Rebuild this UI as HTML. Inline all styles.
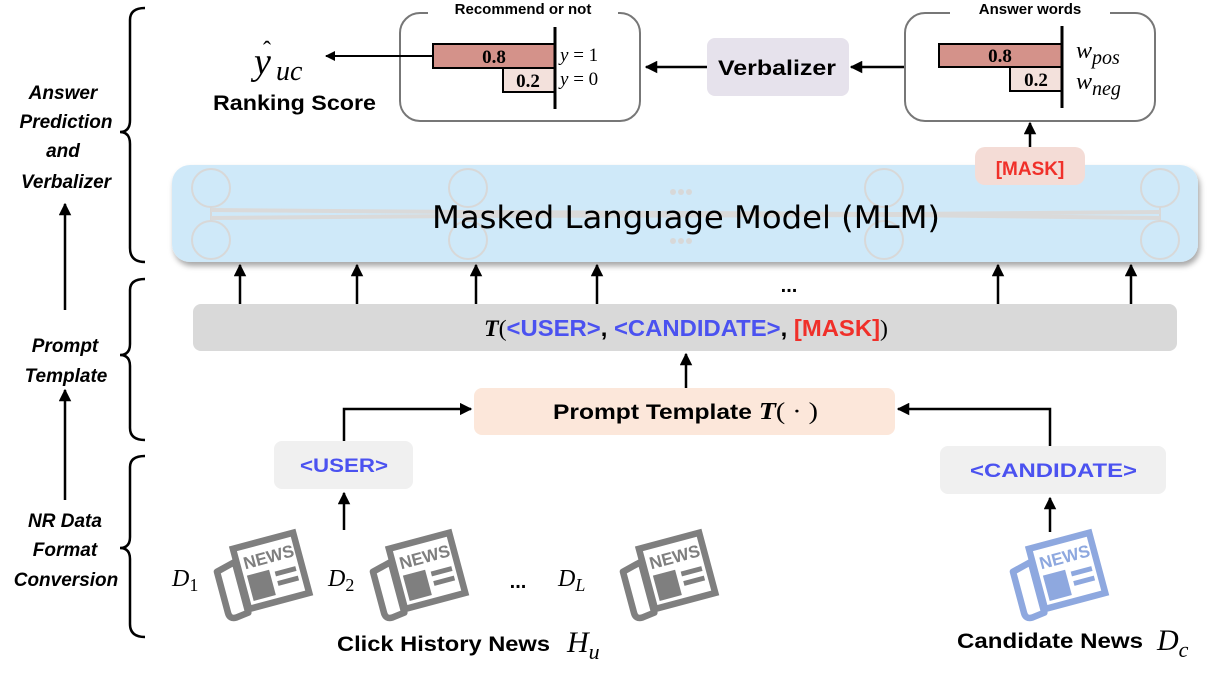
<!DOCTYPE html>
<html><head><meta charset="utf-8"><style>
body{margin:0;background:#fff;}
svg{display:block;}
.b{font-family:"Liberation Sans",sans-serif;font-weight:bold;}
.s{font-family:"Liberation Serif",serif;}
</style></head><body>
<svg width="1219" height="675" viewBox="0 0 1219 675" xmlns="http://www.w3.org/2000/svg">
<defs>
<marker id="ah" viewBox="0 0 10 10" refX="9" refY="5" markerWidth="5" markerHeight="5" orient="auto"><path d="M0,0 L10,5 L0,10 z" fill="#000"/></marker>
<filter id="sh" x="-5%" y="-20%" width="110%" height="140%"><feDropShadow dx="2" dy="4" stdDeviation="3" flood-color="#000" flood-opacity="0.35"/></filter>
<g id="news">
 <path d="M-52,-18 L-28,-24 L-28,40 L-44,42 Q-52,42 -52,34 z" fill="none" stroke="currentColor" stroke-width="8" stroke-linejoin="round"/>
 <rect x="-26" y="-40" width="76" height="76" fill="#fff" stroke="currentColor" stroke-width="8"/>
 <text x="-18" y="-12" font-family="Liberation Sans,sans-serif" font-weight="bold" font-size="21" fill="currentColor">NEWS</text>
 <rect x="-18" y="-4" width="28" height="32" fill="currentColor"/>
 <rect x="16" y="0" width="26" height="6" fill="currentColor"/>
 <rect x="16" y="12" width="26" height="6" fill="currentColor"/>
</g>
</defs>

<g fill="none" stroke="#000" stroke-width="2.5">
<path d="M145,8 Q130,8 130,20 L130,120 Q130,132 120,132 Q130,132 130,144 L130,248 Q130,262 145,262"/>
<path d="M145,279 Q130,279 130,290 L130,344 Q130,355 120,355 Q130,355 130,366 L130,428 Q130,440 145,440"/>
<path d="M145,456 Q130,456 130,467 L130,537 Q130,548 120,548 Q130,548 130,559 L130,624 Q130,637 145,637"/>
</g>
<g font-family="Liberation Sans,sans-serif" font-weight="bold" font-style="italic" font-size="19" text-anchor="middle" fill="#000">
<text x="63" y="99">Answer</text><text x="66" y="128">Prediction</text><text x="63" y="157">and</text><text x="66" y="188">Verbalizer</text>
<text x="65" y="352">Prompt</text><text x="66" y="382">Template</text>
<text x="65" y="527">NR Data</text><text x="65" y="556">Format</text><text x="66" y="586">Conversion</text>
</g>
<g stroke="#000" stroke-width="2.5" marker-end="url(#ah)">
<line x1="65" y1="310" x2="65" y2="204"/>
<line x1="65" y1="500" x2="65" y2="390"/>
</g>

<rect x="400" y="13" width="240" height="108" rx="20" fill="none" stroke="#777" stroke-width="2"/>
<rect x="428" y="0" width="190" height="18" fill="#fff"/>
<text x="523" y="14" class="b" font-size="15" text-anchor="middle">Recommend or not</text>
<rect x="433" y="44" width="122" height="24" fill="#d4928a" stroke="#000" stroke-width="2"/>
<rect x="503" y="68" width="52" height="24" fill="#f3e1dc" stroke="#000" stroke-width="2"/>
<line x1="555" y1="27" x2="555" y2="109" stroke="#000" stroke-width="3"/>
<text x="494" y="63" class="s" font-weight="bold" font-size="19" text-anchor="middle">0.8</text>
<text x="528" y="87" class="s" font-weight="bold" font-size="19" text-anchor="middle">0.2</text>
<text x="560" y="61" class="s" font-size="19"><tspan font-style="italic">y</tspan> = 1</text>
<text x="560" y="85" class="s" font-size="19"><tspan font-style="italic">y</tspan> = 0</text>
<line x1="433" y1="56" x2="326" y2="56" stroke="#000" stroke-width="2" marker-end="url(#ah)"/>
<text x="254" y="74" class="s" font-style="italic" font-size="38">y</text>
<text x="263" y="58" class="s" font-size="24">ˆ</text>
<text x="276" y="80" class="s" font-style="italic" font-size="28">uc</text>
<text x="213" y="110" class="b" font-size="21" textLength="163" lengthAdjust="spacingAndGlyphs">Ranking Score</text>

<rect x="707" y="38" width="142" height="58" rx="8" fill="#e6e2ec"/>
<text x="718" y="75" class="b" font-size="21" textLength="118" lengthAdjust="spacingAndGlyphs">Verbalizer</text>
<line x1="707" y1="67" x2="646" y2="67" stroke="#000" stroke-width="2.5" marker-end="url(#ah)"/>
<line x1="905" y1="67" x2="851" y2="67" stroke="#000" stroke-width="2.5" marker-end="url(#ah)"/>

<rect x="905" y="13" width="250" height="108" rx="20" fill="none" stroke="#777" stroke-width="2"/>
<rect x="950" y="0" width="160" height="18" fill="#fff"/>
<text x="1030" y="14" class="b" font-size="15" text-anchor="middle">Answer words</text>
<rect x="939" y="44" width="123" height="23" fill="#d4928a" stroke="#000" stroke-width="2"/>
<rect x="1010" y="67" width="52" height="24" fill="#f3e1dc" stroke="#000" stroke-width="2"/>
<line x1="1062" y1="26" x2="1062" y2="108" stroke="#000" stroke-width="3"/>
<text x="1000" y="62" class="s" font-weight="bold" font-size="19" text-anchor="middle">0.8</text>
<text x="1036" y="86" class="s" font-weight="bold" font-size="19" text-anchor="middle">0.2</text>
<text x="1076" y="58" class="s" font-style="italic" font-size="24">w<tspan font-size="20" dy="6">pos</tspan></text>
<text x="1076" y="89" class="s" font-style="italic" font-size="24">w<tspan font-size="20" dy="6">neg</tspan></text>
<line x1="1030" y1="150" x2="1030" y2="123" stroke="#000" stroke-width="2.5" marker-end="url(#ah)"/>

<rect x="172" y="165" width="1026" height="97" rx="18" fill="#cfe9f9" filter="url(#sh)"/>
<g fill="none" stroke="#d8d8d8" stroke-width="2">
<circle cx="211" cy="188" r="19"/><circle cx="211" cy="240" r="19"/>
<circle cx="468" cy="188" r="19"/><circle cx="468" cy="240" r="19"/>
<circle cx="884" cy="188" r="19"/><circle cx="884" cy="240" r="19"/>
<circle cx="1160" cy="188" r="19"/><circle cx="1160" cy="240" r="19"/>
<line x1="211" y1="207" x2="211" y2="221"/><line x1="1160" y1="207" x2="1160" y2="221"/>
</g>
<g stroke="#dadada" stroke-width="4" fill="none">
<path d="M211,210 L470,212 L900,214 L1160,212"/>
<path d="M211,218 L470,216 L900,215 L1160,218"/>
</g>
<g fill="#d8d8d8"><circle cx="673" cy="192" r="3"/><circle cx="681" cy="192" r="3"/><circle cx="689" cy="192" r="3"/><circle cx="673" cy="241" r="3"/><circle cx="681" cy="241" r="3"/><circle cx="689" cy="241" r="3"/></g>
<text x="432" y="228" font-family="DejaVu Sans,sans-serif" font-size="31" textLength="508" lengthAdjust="spacingAndGlyphs">Masked Language Model (MLM)</text>
<rect x="975" y="147" width="110" height="38" rx="10" fill="#f4dcd6"/>
<text x="1030" y="175" class="b" font-size="19" fill="#f0302a" text-anchor="middle">[MASK]</text>

<g stroke="#000" stroke-width="2.5" marker-end="url(#ah)">
<line x1="240" y1="305" x2="240" y2="265"/><line x1="357" y1="305" x2="357" y2="265"/>
<line x1="476" y1="305" x2="476" y2="265"/><line x1="597" y1="305" x2="597" y2="265"/>
<line x1="998" y1="305" x2="998" y2="265"/><line x1="1131" y1="305" x2="1131" y2="265"/>
</g>
<text x="789" y="292" class="b" font-size="20" text-anchor="middle">...</text>

<rect x="193" y="304" width="984" height="47" rx="8" fill="#d9d9d9"/>
<text x="484" y="336" font-size="23" class="b" textLength="404" lengthAdjust="spacingAndGlyphs"><tspan class="s" font-style="italic" font-weight="bold">T</tspan><tspan class="s" font-weight="normal">(</tspan><tspan fill="#4b52f0">&lt;USER&gt;</tspan>, <tspan fill="#4b52f0">&lt;CANDIDATE&gt;</tspan>, <tspan fill="#f0302a">[MASK]</tspan><tspan class="s" font-weight="normal">)</tspan></text>
<line x1="686" y1="388" x2="686" y2="354" stroke="#000" stroke-width="2.5" marker-end="url(#ah)"/>

<rect x="474" y="388" width="421" height="47" rx="8" fill="#fce7da"/>
<text x="553" y="419" class="b" font-size="21" textLength="265" lengthAdjust="spacingAndGlyphs">Prompt Template <tspan class="s" font-style="italic" font-size="24">T</tspan><tspan class="s" font-weight="normal" font-size="24">( · )</tspan></text>

<rect x="274" y="441" width="139" height="48" rx="8" fill="#f0f0f0"/>
<text x="300" y="472" class="b" font-size="19" fill="#4b52f0" textLength="88" lengthAdjust="spacingAndGlyphs">&lt;USER&gt;</text>
<rect x="940" y="446" width="226" height="48" rx="8" fill="#f0f0f0"/>
<text x="970" y="477" class="b" font-size="19" fill="#4b52f0" textLength="167" lengthAdjust="spacingAndGlyphs">&lt;CANDIDATE&gt;</text>
<g stroke="#000" stroke-width="2.5" fill="none" marker-end="url(#ah)">
<path d="M344,441 L344,409 L471,409"/>
<path d="M1050,446 L1050,409 L898,409"/>
<line x1="344" y1="530" x2="344" y2="493"/>
<line x1="1050" y1="532" x2="1050" y2="498"/>
</g>

<g color="#7f7f7f">
<use href="#news" transform="translate(262,575) rotate(-15) scale(0.82)"/>
<use href="#news" transform="translate(418,575) rotate(-15) scale(0.82)"/>
<use href="#news" transform="translate(668,575) rotate(-15) scale(0.82)"/>
</g>
<g color="#8ea8df"><use href="#news" transform="translate(1058,575) rotate(-15) scale(0.82)"/></g>
<g class="s" font-style="italic" font-size="24">
<text x="172" y="586">D<tspan font-style="normal" font-size="18" dy="5">1</tspan></text>
<text x="328" y="586">D<tspan font-style="normal" font-size="18" dy="5">2</tspan></text>
<text x="558" y="586">D<tspan font-size="18" dy="5">L</tspan></text>
</g>
<text x="518" y="588" class="b" font-size="20" text-anchor="middle">...</text>
<text x="337" y="651" class="b" font-size="21" textLength="213" lengthAdjust="spacingAndGlyphs">Click History News</text>
<text x="567" y="652" class="s" font-style="italic" font-size="30">H<tspan font-size="22" dy="7">u</tspan></text>
<text x="957" y="648" class="b" font-size="21" textLength="186" lengthAdjust="spacingAndGlyphs">Candidate News</text>
<text x="1157" y="650" class="s" font-style="italic" font-size="30">D<tspan font-size="22" dy="7">c</tspan></text>
</svg>
</body></html>
